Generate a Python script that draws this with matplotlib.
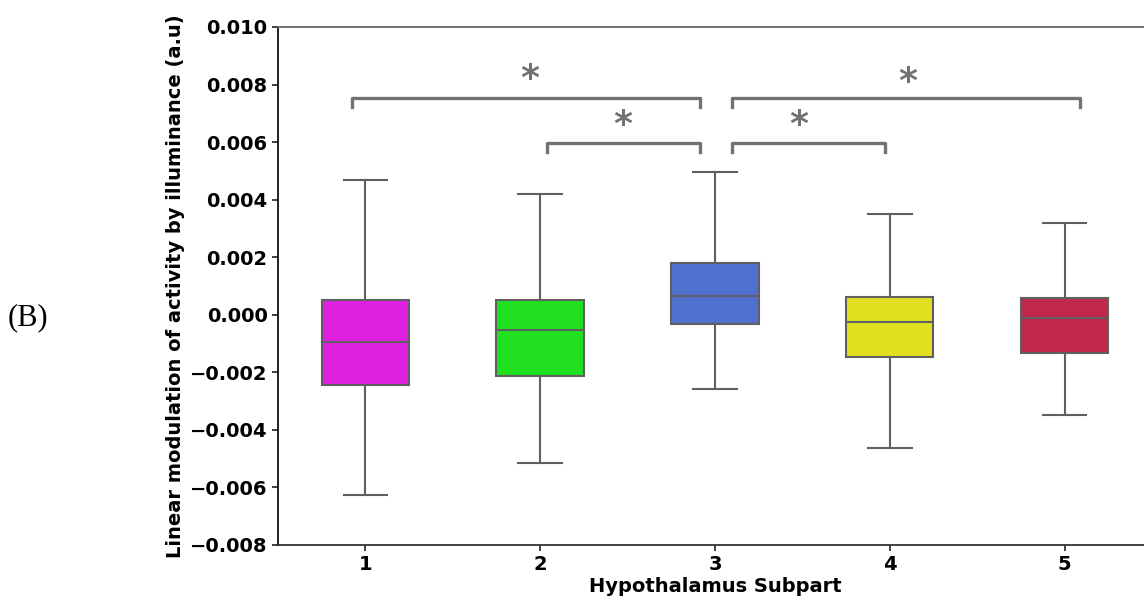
import matplotlib
matplotlib.use("Agg")
import matplotlib.pyplot as plt

categories = ["1", "2", "3", "4", "5"]
whislo = [-0.00626, -0.00515, -0.00258, -0.00463, -0.00348]
q1 = [-0.00244, -0.00213, -0.00032, -0.00147, -0.00133]
med = [-0.00095, -0.00053, 0.00065, -0.00025, -0.00011]
q3 = [0.00051, 0.00051, 0.00180, 0.00062, 0.00058]
whishi = [0.00468, 0.00420, 0.00496, 0.00350, 0.00319]
colors = ["#E020E0", "#20E020", "#5070D0", "#E0E020", "#C0284A"]

# significance brackets: (x_start, x_end, y, star_x, star_y)
brackets = [
    (0.925, 2.914, 0.00753, 1.94, 0.0082),
    (2.04, 2.914, 0.00597, 2.47, 0.0066),
    (3.10, 3.97, 0.00597, 3.48, 0.0066),
    (3.10, 5.09, 0.00753, 4.10, 0.0081),
]

fig = plt.figure(figsize=(11.44, 6.04), dpi=100)
ax = fig.add_axes([278/1144, 1-545/604, (1152-278)/1144, (545-27)/604])

stats = []
for i, c in enumerate(categories):
    stats.append(dict(label=c, whislo=whislo[i], q1=q1[i], med=med[i],
                      q3=q3[i], whishi=whishi[i], fliers=[]))
pos = list(range(1, len(categories) + 1))
lc = "#606060"
bp = ax.bxp(stats, positions=pos, widths=0.5, patch_artist=True, showfliers=False,
            boxprops=dict(edgecolor=lc, linewidth=1.5),
            medianprops=dict(color=lc, linewidth=1.5),
            whiskerprops=dict(color=lc, linewidth=1.5),
            capprops=dict(color=lc, linewidth=1.5))
for patch, col in zip(bp["boxes"], colors):
    patch.set_facecolor(col)

bc = "#727272"
for x0, x1, y, sx, sy in brackets:
    h = 0.0003
    ax.plot([x0, x0, x1, x1], [y - h, y, y, y - h], color=bc, lw=2.4)
    ax.text(sx, sy, "*", ha="center", va="center", fontsize=26,
            fontweight="bold", color=bc)

ax.set_xlim(0.5, 5.5)
ax.set_ylim(-0.008, 0.010)
ax.set_yticks([-0.008, -0.006, -0.004, -0.002, 0.0, 0.002, 0.004, 0.006, 0.008, 0.010])
ax.set_yticklabels([f"{v:.3f}".replace("-", "\u2212") for v in ax.get_yticks()])
ax.set_xticks(pos)
ax.set_xticklabels(categories)
for lab in ax.get_xticklabels() + ax.get_yticklabels():
    lab.set_fontweight("bold")
    lab.set_fontsize(14)
ax.spines["left"].set_color("#111111")
ax.spines["bottom"].set_color("#333333")
ax.spines["top"].set_color("#666666")
ax.spines["right"].set_color("#666666")
for sp in ax.spines.values():
    sp.set_linewidth(1.3)
ax.tick_params(colors="#333333", labelcolor="black", width=1.3, length=4)
ax.set_xlabel("Hypothalamus Subpart", fontsize=14, fontweight="bold", labelpad=2)
ax.set_ylabel("Linear modulation of activity by illuminance (a.u)", fontsize=14,
              fontweight="bold", labelpad=4)

fig.text(28/1144, 1-318/604, "(B)", fontsize=22, family="Liberation Serif",
         ha="center", va="center")

fig.savefig("out.png", dpi=100)
